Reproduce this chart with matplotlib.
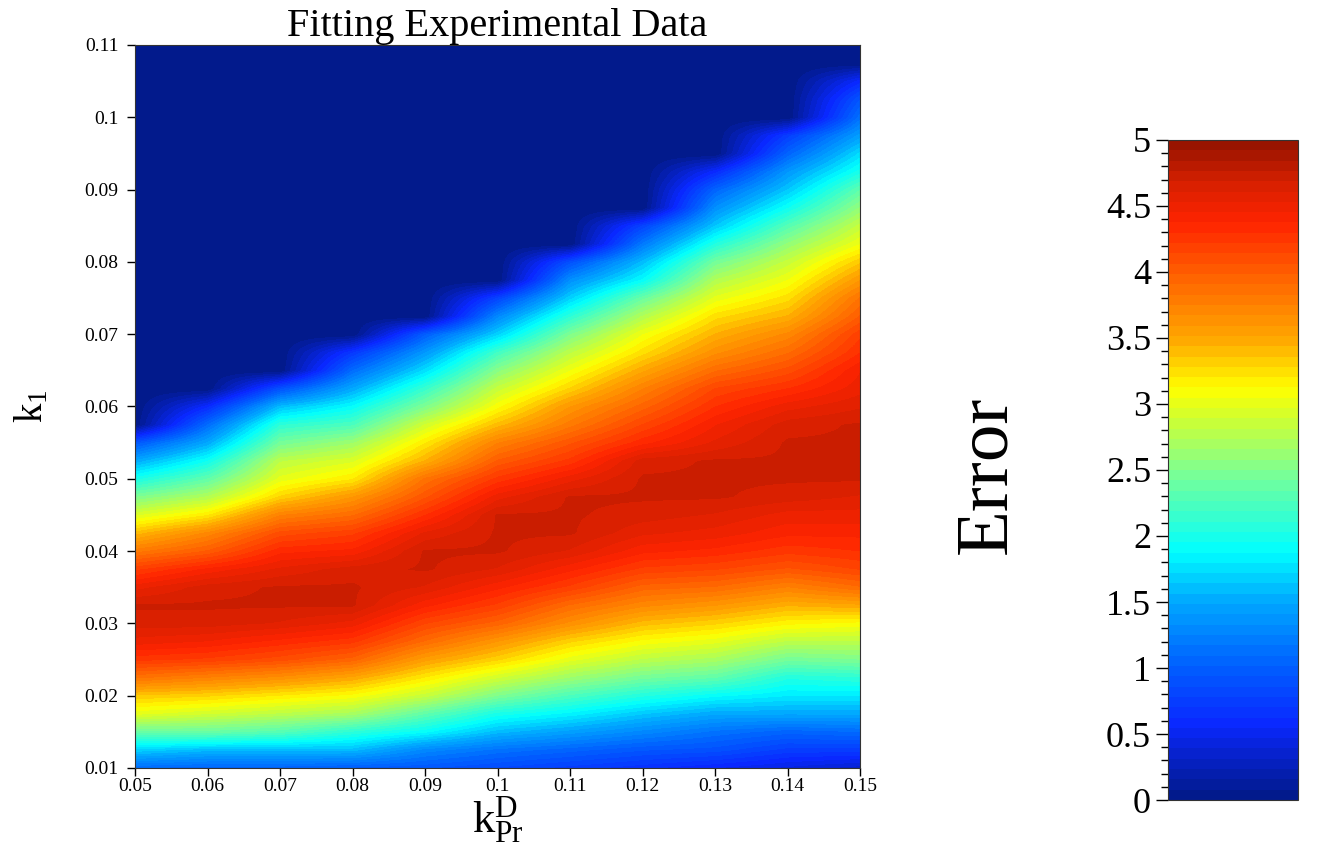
import numpy as np
import matplotlib
matplotlib.use("Agg")
import matplotlib.pyplot as plt
from matplotlib.colors import LinearSegmentedColormap
from matplotlib.ticker import MultipleLocator, FuncFormatter

plt.rcParams['font.family'] = ['Liberation Serif', 'DejaVu Serif']
plt.rcParams['mathtext.fontset'] = 'custom'
plt.rcParams['mathtext.rm'] = 'Liberation Serif'
plt.rcParams['mathtext.it'] = 'Liberation Serif'

# grid: columns of k_Pr^D, rows of k_1
k_pr = [0.05, 0.06, 0.07, 0.08, 0.09, 0.10, 0.11, 0.12, 0.13, 0.14, 0.15]
k1 = np.round(np.arange(0.010, 0.1101, 0.0025), 4)

# error along each k_Pr^D column, k1 = 0.010 ... 0.110 (0 = dark blue area)
err_050 = [1.1, 1.7, 2.4, 3.0, 3.35, 3.85, 4.25, 4.5, 4.65, 4.7,
           4.5, 4.2, 3.8, 3.4, 2.95, 2.5, 2.0, 1.5, 0.95] + [0] * 22
err_060 = [1.05, 1.6, 2.4, 2.9, 3.3, 3.75, 4.2, 4.45, 4.65, 4.7,
           4.65, 4.4, 4.0, 3.7, 3.2, 2.75, 2.35, 1.95, 1.5, 1.1,
           0.6] + [0] * 20
err_070 = [1.05, 1.6, 2.3, 2.8, 3.2, 3.65, 4.1, 4.35, 4.6, 4.7,
           4.7, 4.55, 4.35, 4.1, 3.75, 3.3, 3.0, 2.8, 2.45, 2.1,
           1.6, 0.9] + [0] * 19
err_080 = [1.0, 1.6, 2.1, 2.7, 3.1, 3.5, 3.95, 4.25, 4.5, 4.7,
           4.7, 4.65, 4.4, 4.2, 3.9, 3.6, 3.2, 2.95, 2.65, 2.25,
           1.9, 1.5, 1.1, 0.7] + [0] * 17
err_090 = [0.95, 1.3, 1.9, 2.35, 2.85, 3.2, 3.55, 3.9, 4.15, 4.4,
           4.6, 4.7, 4.7, 4.55, 4.3, 4.05, 3.85, 3.45, 3.2, 2.9,
           2.5, 2.15, 1.75, 1.4, 1.0] + [0] * 16
err_100 = [0.85, 1.15, 1.6, 2.0, 2.5, 2.9, 3.3, 3.6, 3.95, 4.2,
           4.4, 4.6, 4.7, 4.7, 4.7, 4.5, 4.25, 4.0, 3.75, 3.4,
           3.1, 2.85, 2.55, 2.2, 1.7, 1.3, 0.8] + [0] * 14
err_110 = [0.75, 1.05, 1.45, 1.85, 2.25, 2.65, 3.0, 3.3, 3.65, 3.9,
           4.2, 4.4, 4.6, 4.7, 4.7, 4.7, 4.5, 4.25, 4.05, 3.8,
           3.6, 3.3, 3.05, 2.8, 2.5, 2.1, 1.7, 1.35, 0.9] + [0] * 12
err_120 = [0.65, 0.95, 1.3, 1.65, 2.05, 2.45, 2.8, 3.1, 3.4, 3.7,
           3.95, 4.2, 4.4, 4.55, 4.65, 4.7, 4.7, 4.65, 4.35, 4.15,
           3.95, 3.75, 3.5, 3.25, 3.05, 2.75, 2.4, 1.9, 1.6, 1.2,
           0.8] + [0] * 10
err_130 = [0.55, 0.9, 1.15, 1.5, 1.9, 2.35, 2.7, 3.0, 3.3, 3.6,
           3.9, 4.15, 4.35, 4.5, 4.6, 4.7, 4.7, 4.7, 4.55, 4.45,
           4.3, 4.15, 3.9, 3.65, 3.45, 3.25, 3.0, 2.75, 2.45, 2.05,
           1.65, 1.35, 1.05, 0.6] + [0] * 7
err_140 = [0.45, 0.75, 1.05, 1.5, 1.8, 2.05, 2.45, 2.8, 3.15, 3.45,
           3.75, 4.05, 4.25, 4.4, 4.5, 4.65, 4.7, 4.7, 4.7, 4.65,
           4.5, 4.3, 4.1, 3.9, 3.7, 3.45, 3.25, 3.05, 2.85, 2.6,
           2.3, 1.95, 1.65, 1.4, 1.05, 0.75] + [0] * 5
err_150 = [0.35, 0.75, 1.1, 1.5, 1.8, 2.1, 2.5, 2.8, 3.1, 3.5,
           3.9, 4.15, 4.3, 4.4, 4.5, 4.6, 4.7, 4.7, 4.7, 4.7,
           4.6, 4.5, 4.45, 4.3, 4.2, 4.0, 3.85, 3.6, 3.35, 3.05,
           2.85, 2.6, 2.35, 2.0, 1.75, 1.45, 1.15, 0.95, 0.6, 0, 0]

err = np.column_stack([err_050, err_060, err_070, err_080, err_090, err_100,
                       err_110, err_120, err_130, err_140, err_150])

# jet-like map as in the original figure
cmap = LinearSegmentedColormap.from_list("err_jet", [
    (0.00, "#021a8c"), (0.11, "#0a28ff"), (0.20, "#0060ff"),
    (0.30, "#00aaff"), (0.375, "#00ffff"), (0.50, "#80ff90"),
    (0.58, "#d0ff30"), (0.625, "#ffff00"), (0.70, "#ffa800"),
    (0.80, "#ff6000"), (0.88, "#ff2400"), (0.94, "#d82000"),
    (1.00, "#981400")], N=64)

fig = plt.figure(figsize=(13.33, 8.55), dpi=100)
ax = fig.add_axes([0.1013, 0.1018, 0.5439, 0.8456])

dx = k_pr[1] - k_pr[0]
dy = k1[1] - k1[0]
im = ax.imshow(err, origin='lower', aspect='auto', cmap=cmap, vmin=0, vmax=5,
               interpolation='bilinear', interpolation_stage='data',
               extent=[k_pr[0] - dx / 2, k_pr[-1] + dx / 2,
                       k1[0] - dy / 2, k1[-1] + dy / 2])
ax.set_xlim(k_pr[0], k_pr[-1])
ax.set_ylim(k1[0], k1[-1])

fmt = FuncFormatter(lambda v, p: f"{v:g}")
ax.xaxis.set_major_locator(MultipleLocator(0.01))
ax.yaxis.set_major_locator(MultipleLocator(0.01))
ax.xaxis.set_major_formatter(fmt)
ax.yaxis.set_major_formatter(fmt)
ax.tick_params(direction='out', length=6, width=1, labelsize=14)
ax.tick_params(axis='x', pad=1)
ax.tick_params(axis='y', pad=6)
for s in ax.spines.values():
    s.set_color('#333333')

ax.set_title("Fitting Experimental Data", fontsize=29, pad=2)
ax.set_xlabel(r"$\mathrm{k_{Pr}^{D}}$", fontsize=32, labelpad=0)
ax.set_ylabel(r"$\mathrm{k_1}$", fontsize=28, labelpad=24)

cax = fig.add_axes([0.876, 0.0643, 0.0975, 0.772])
cb = fig.colorbar(im, cax=cax)
cax.yaxis.set_ticks_position('left')
cax.yaxis.set_major_locator(MultipleLocator(0.5))
cax.yaxis.set_minor_locator(MultipleLocator(0.1))
cax.yaxis.set_major_formatter(fmt)
cax.tick_params(which='major', direction='out', length=9, width=1, labelsize=26, pad=3)
cax.tick_params(which='minor', direction='out', length=5, width=1)
cb.outline.set_edgecolor('#333333')

fig.text(988 / 1333, 1 - 475 / 855, "Error", rotation=90, ha='center', va='center',
         fontsize=54)

fig.savefig("out.png", dpi=100)
